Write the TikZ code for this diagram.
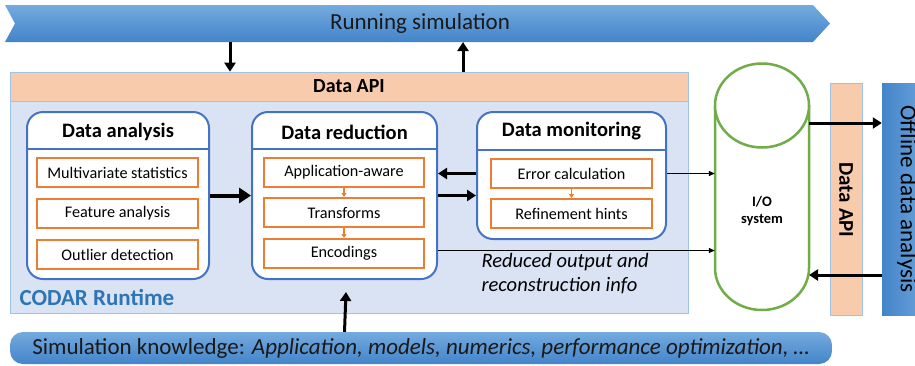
\documentclass[tikz,border=0pt]{standalone}
\usepackage{fontspec}
\setmainfont{Carlito}
\usetikzlibrary{arrows.meta}
\definecolor{boxblue}{HTML}{4472C4}
\definecolor{orng}{HTML}{ED7D31}
\definecolor{grn}{HTML}{70AD47}
\definecolor{peach}{HTML}{F8CBAD}
\definecolor{panel}{HTML}{DAE3F3}
\definecolor{panelline}{HTML}{9DC3E6}
\definecolor{codar}{HTML}{2E75B6}
\definecolor{bandtop}{HTML}{74AADF}
\definecolor{bandbot}{HTML}{4384C9}
\tikzset{
  bigbox/.style={draw=boxblue, line width=2pt, rounded corners=16pt, fill=white, inner sep=0},
  ttl/.style={font=\fontsize{20.5}{24}\selectfont\bfseries},
  inbox/.style={draw=orng, line width=2pt, fill=white, inner sep=0, font=\fontsize{16.2}{19}\selectfont},
  thick arr/.style={line width=3pt, -{Triangle[length=9pt,width=11pt]}},
  thin arr/.style={line width=1.3pt, -{Triangle[length=6pt,width=5pt]}},
  small arr/.style={draw=orng, line width=1.2pt, -{Triangle[length=4pt,width=5pt]}},
  apibox/.style={fill=peach, draw=panelline, line width=0.6pt, inner sep=0},
}
\begin{document}
\begin{tikzpicture}[x=1pt,y=-1pt]
\clip (0,0) rectangle (915,365);
\fill[white] (0,0) rectangle (915,365);
% Running simulation band
\shade[top color=bandtop, bottom color=bandbot] (5,5) -- (813,5) -- (830,23.5) -- (813,42) -- (5,42) -- (15,23.5) -- cycle;
\node[font=\fontsize{23}{27}\selectfont, text=black!90] (rs) at (420,23.5) {Running simulation};
% CODAR panel
\node[fill=panel, draw=panelline, line width=0.6pt, minimum width=678, minimum height=212, inner sep=0] (panel) at (349,207) {};
\node[apibox, minimum width=678, minimum height=29, font=\fontsize{20}{23}\selectfont\bfseries] (api) at (349,86.5) {Data API};
\node[font=\fontsize{23}{27}\selectfont\bfseries, text=codar, anchor=west] (codar) at (16,297) {CODAR Runtime};
% Data analysis
\node[bigbox, minimum width=182, minimum height=167] (da) at (118,195.5) {};
\draw[boxblue, line width=2pt] ([yshift=-38]da.north west) -- ([yshift=-38]da.north east);
\node[ttl] (dat) at (118,132) {Data analysis};
\node[inbox, minimum width=161, minimum height=29] (da1) at (117.5,172.5) {Multivariate statistics};
\node[inbox, minimum width=161, minimum height=29] (da2) at (117.5,213.5) {Feature analysis};
\node[inbox, minimum width=161, minimum height=29] (da3) at (117.5,254.5) {Outlier detection};
% Data reduction
\node[bigbox, minimum width=185, minimum height=167] (dr) at (344.5,195.5) {};
\draw[boxblue, line width=2pt] ([yshift=-38]dr.north west) -- ([yshift=-38]dr.north east);
\node[ttl] (drt) at (344.5,132) {Data reduction};
\node[inbox, minimum width=160, minimum height=29] (dr1) at (344,172) {Application-aware};
\node[inbox, minimum width=160, minimum height=29] (dr2) at (344,212.5) {Transforms};
\node[inbox, minimum width=160, minimum height=29] (dr3) at (344,253.5) {Encodings};
\draw[small arr] (dr1.south) -- (dr2.north);
\draw[small arr] (dr2.south) -- (dr3.north);
% Data monitoring
\node[bigbox, minimum width=189, minimum height=127] (dm) at (571.5,175.5) {};
\draw[boxblue, line width=2pt] ([yshift=-39]dm.north west) -- ([yshift=-39]dm.north east);
\node[ttl] (dmt) at (571.5,131.5) {Data monitoring};
\node[inbox, minimum width=161, minimum height=29] (dm1) at (571.5,173.5) {Error calculation};
\node[inbox, minimum width=161, minimum height=29] (dm2) at (571.5,213.5) {Refinement hints};
\draw[small arr] (dm1.south) -- (dm2.north);
% I/O cylinder
\fill[white] (715,105) -- (715,268) arc[start angle=180, end angle=0, x radius=47, y radius=42] -- (809,105) -- cycle;
\draw[grn, line width=2.5pt] (715,105) -- (715,268) arc[start angle=180, end angle=0, x radius=47, y radius=42] -- (809,105);
\draw[grn, line width=2.5pt, fill=white] (762,105.5) ellipse[x radius=47, y radius=42];
\node[minimum width=94, minimum height=247, inner sep=0] (io) at (762,186.5) {};
\node[font=\fontsize{14.5}{17}\selectfont\bfseries, align=center] (iot) at (762,211) {I/O\\system};
% Data API vertical and offline analysis
\node[apibox, minimum width=32, minimum height=232] (api2) at (846,199) {};
\node[rotate=-90, font=\fontsize{21}{24}\selectfont\bfseries] (api2t) at (846,200) {Data API};
\shade[left color=bandbot, right color=bandtop] (882,83) rectangle (935,315);
\node[minimum width=53, minimum height=232, inner sep=0] (off) at (908.5,199) {};
\node[rotate=-90, font=\fontsize{23}{26}\selectfont] (offt) at (907,199) {Offline data analysis};
% Simulation knowledge
\shade[top color=bandtop, bottom color=bandbot, rounded corners=13pt] (10,332) rectangle (832,364);
\node[minimum width=822, minimum height=32, inner sep=0] (sk) at (421,348) {};
\node[font=\fontsize{23}{27}\selectfont, text=black!90] (skt) at (421,348) {Simulation knowledge: \textit{Application, models, numerics, performance optimization, …}};
% arrows
\draw[thick arr] (230,42) -- (api.north -| 230,0);
\draw[thick arr] (api.north -| 463,0) -- (463,42);
\draw[line width=4pt, -{Triangle[length=12pt,width=15pt]}] (da.east) -- (dr.west);
\draw[thick arr] (dm.west |- dm1.east) -- (dr.east |- dm1.east);
\draw[thick arr] (dr.east) -- (dm.west |- dr.east);
\draw[thin arr] (dm.east |- dm1.east) -- (io.west |- dm1.east);
\draw[thin arr] ([yshift=3]dr3.east -| dr.east) -- ([yshift=3]dr3.east -| io.west);
\node[font=\fontsize{20.5}{24}\selectfont\itshape, align=left, anchor=north west] (red) at (478,250) {Reduced output and\\reconstruction info};
\draw[thick arr] (sk.north -| dr.south) -- (346,292);
\draw[thick arr] (809,123) -- (off.west |- 0,123);
\draw[thick arr] (off.west |- 0,275) -- (809,275);
\end{tikzpicture}
\end{document}
